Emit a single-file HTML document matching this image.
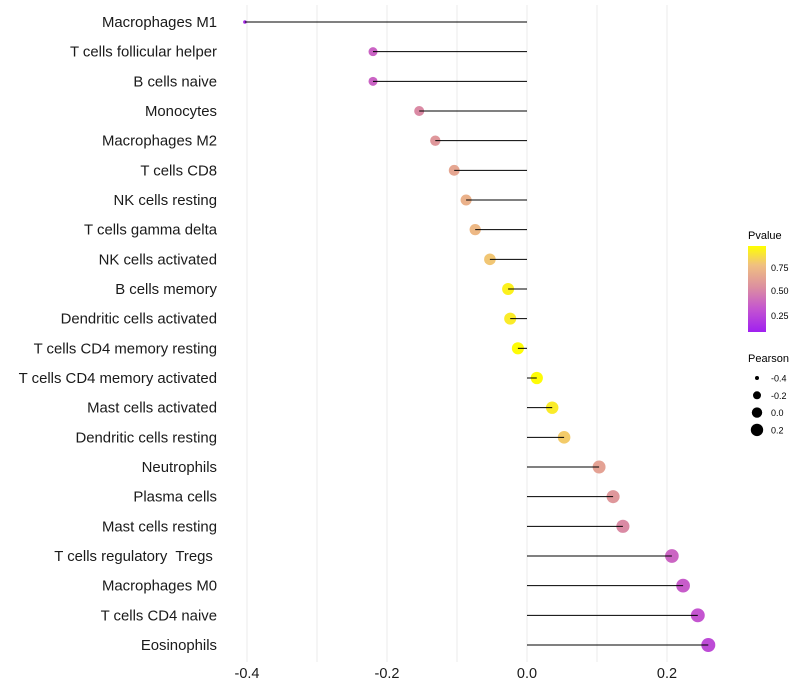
<!DOCTYPE html>
<html><head><meta charset="utf-8"><style>
body{margin:0;background:#fff;}
svg{display:block;font-family:"Liberation Sans",sans-serif;}
#labels text{white-space:pre;}
</style></head><body>
<svg id="chart" width="800" height="700">
<defs><linearGradient id="pg" x1="0" y1="1" x2="0" y2="0">
<stop offset="0" stop-color="#a020f0"/><stop offset="0.27" stop-color="#c455d0"/><stop offset="0.52" stop-color="#dc8fa0"/><stop offset="0.78" stop-color="#f0c080"/><stop offset="1" stop-color="#ffff00"/></linearGradient></defs>
<g id="grid"></g>
<g id="marks"></g>
<g id="labels"></g>
<g id="xticks"></g>
<g>
<text x="748" y="239" font-size="11">Pvalue</text>
<rect x="748" y="246" width="18" height="86" fill="url(#pg)"/>
<text x="771" y="271" font-size="9">0.75</text>
<text x="771" y="294" font-size="9">0.50</text>
<text x="771" y="319" font-size="9">0.25</text>
</g>
<g id="sizeleg">
<text x="748" y="362" font-size="11">Pearson</text>
</g>
</svg>
<script>
const categories=["Macrophages M1","T cells follicular helper","B cells naive","Monocytes","Macrophages M2","T cells CD8","NK cells resting","T cells gamma delta","NK cells activated","B cells memory","Dendritic cells activated","T cells CD4 memory resting","T cells CD4 memory activated","Mast cells activated","Dendritic cells resting","Neutrophils","Plasma cells","Mast cells resting","T cells regulatory  Tregs ","Macrophages M0","T cells CD4 naive","Eosinophils"];
const pearson=[-0.403,-0.22,-0.22,-0.154,-0.131,-0.104,-0.087,-0.074,-0.053,-0.027,-0.024,-0.013,0.014,0.036,0.053,0.103,0.123,0.137,0.207,0.223,0.244,0.259];
const pvalues=[0.06,0.33,0.33,0.5,0.56,0.64,0.7,0.74,0.8,0.95,0.93,0.99,0.99,0.93,0.82,0.62,0.56,0.5,0.34,0.3,0.27,0.22];
const xTicks=[-0.4,-0.2,0.0,0.2];
const xTickLabels=["-0.4","-0.2","0.0","0.2"];
const gridVals=[-0.4,-0.3,-0.2,-0.1,0,0.1,0.2];
const sizeLegendVals=[-0.4,-0.2,0.0,0.2];
const sizeLegendLabels=["-0.4","-0.2","0.0","0.2"];
const NS="http://www.w3.org/2000/svg";
const xs=v=>527+v*700;
const ys=i=>22+i*(645-22)/21;
const sizeKnots=[[-0.403,1.8],[-0.22,4.5],[-0.027,6],[0.26,7]];
function rs(v){if(v<=sizeKnots[0][0])return sizeKnots[0][1];for(let i=1;i<sizeKnots.length;i++){const a=sizeKnots[i-1],b=sizeKnots[i];if(v<=b[0])return a[1]+(b[1]-a[1])*(v-a[0])/(b[0]-a[0]);}return sizeKnots[sizeKnots.length-1][1];}
const stops=[[0,[160,32,240]],[0.27,[196,85,208]],[0.52,[220,143,160]],[0.78,[240,192,128]],[1,[255,255,0]]];
function col(p){for(let i=1;i<stops.length;i++){if(p<=stops[i][0]){const a=stops[i-1],b=stops[i],t=(p-a[0])/(b[0]-a[0]);return "rgb("+a[1].map((c,k)=>Math.round(c+(b[1][k]-c)*t)).join(",")+")";}}return "rgb(255,255,0)";}
function mk(t,at,parent){const e=document.createElementNS(NS,t);for(const k in at)e.setAttribute(k,at[k]);parent.appendChild(e);return e;}
const grid=document.getElementById('grid'),marks=document.getElementById('marks'),labels=document.getElementById('labels'),xt=document.getElementById('xticks'),sl=document.getElementById('sizeleg');
gridVals.forEach(v=>{const l=mk('line',{x1:xs(v),x2:xs(v),y1:5,y2:662,stroke:'#ebebeb','stroke-width':1},grid);

});
categories.forEach((c,i)=>{const y=ys(i),v=pearson[i];
const dot=mk('circle',{cx:xs(v),cy:y,r:rs(v),fill:col(pvalues[i])},marks);


const seg=mk('line',{x1:xs(0),x2:xs(v),y1:y,y2:y,stroke:'#000','stroke-width':1},marks);


const t=mk('text',{x:217,y:y+5,'text-anchor':'end','font-size':14.9,fill:'#1a1a1a'},labels);t.textContent=c;

});
xTicks.forEach((v,i)=>{const t=mk('text',{x:xs(v),y:678,'text-anchor':'middle','font-size':14.5,fill:'#1a1a1a'},xt);t.textContent=xTickLabels[i];

});
sizeLegendVals.forEach((v,i)=>{const y=378+i*17.3;
const c=mk('circle',{cx:757,cy:y,r:[2,4,5.2,6.2][i],fill:'#000'},sl);


const t=mk('text',{x:771,y:y+3.5,'font-size':9},sl);t.textContent=sizeLegendLabels[i];

});
</script>
</body></html>
